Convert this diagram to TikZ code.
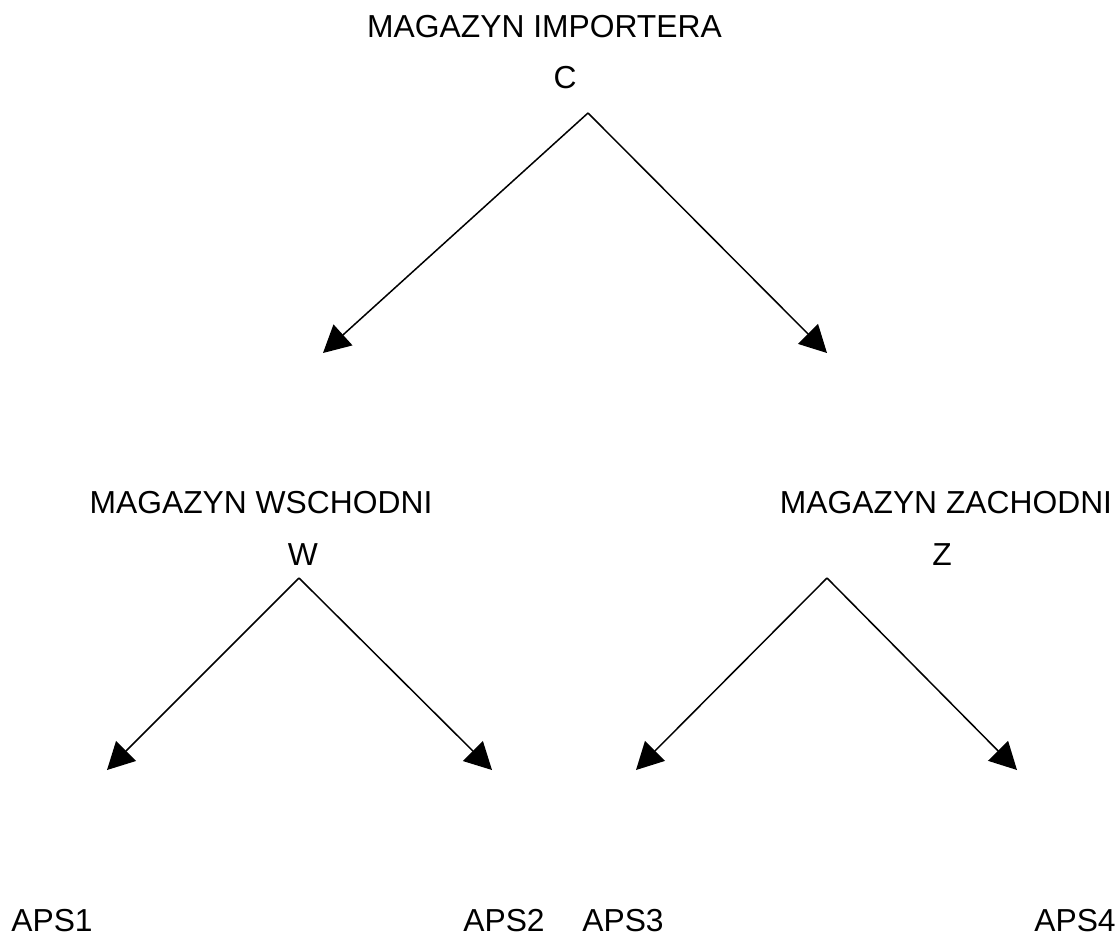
\documentclass[tikz,border=0pt]{standalone}
\usepackage{fontspec}
\setmainfont{Liberation Sans}
\usetikzlibrary{arrows.meta}

\begin{document}
\begin{tikzpicture}[x=1pt,y=-1pt,font=\fontsize{31.8}{38}\selectfont,
  lbl/.style={anchor=base,inner sep=0pt},
  arr/.style={line width=1.5pt,-{Triangle[length=27pt,width=28pt]}}]
\useasboundingbox (0,0) rectangle (1118,938);
% labels
\node[lbl](mi) at (544.5,37){MAGAZYN IMPORTERA};
\node[lbl](c) at (565,88){C};
\node[lbl](mw) at (261,513){MAGAZYN WSCHODNI};
\node[lbl](w) at (303,565){W};
\node[lbl](mz) at (946,513){MAGAZYN ZACHODNI};
\node[lbl](z) at (942,565){Z};
\node[lbl](aps1) at (52,931){APS1};
\node[lbl](aps2) at (504,931){APS2};
\node[lbl](aps3) at (623,931){APS3};
\node[lbl](aps4) at (1075,931){APS4};
% branch points and arrow ends
\coordinate (ca) at (588,113);
\coordinate (wa) at (299,578);
\coordinate (za) at (827,578);
\coordinate (cl) at (323,353);
\coordinate (cr) at (827,353);
\coordinate (wl) at (107,770);
\coordinate (wr) at (492,770);
\coordinate (zl) at (636,770);
\coordinate (zr) at (1017,770);
\draw[arr] (ca) -- (cl);
\draw[arr] (ca) -- (cr);
\draw[arr] (wa) -- (wl);
\draw[arr] (wa) -- (wr);
\draw[arr] (za) -- (zl);
\draw[arr] (za) -- (zr);
\end{tikzpicture}
\end{document}
